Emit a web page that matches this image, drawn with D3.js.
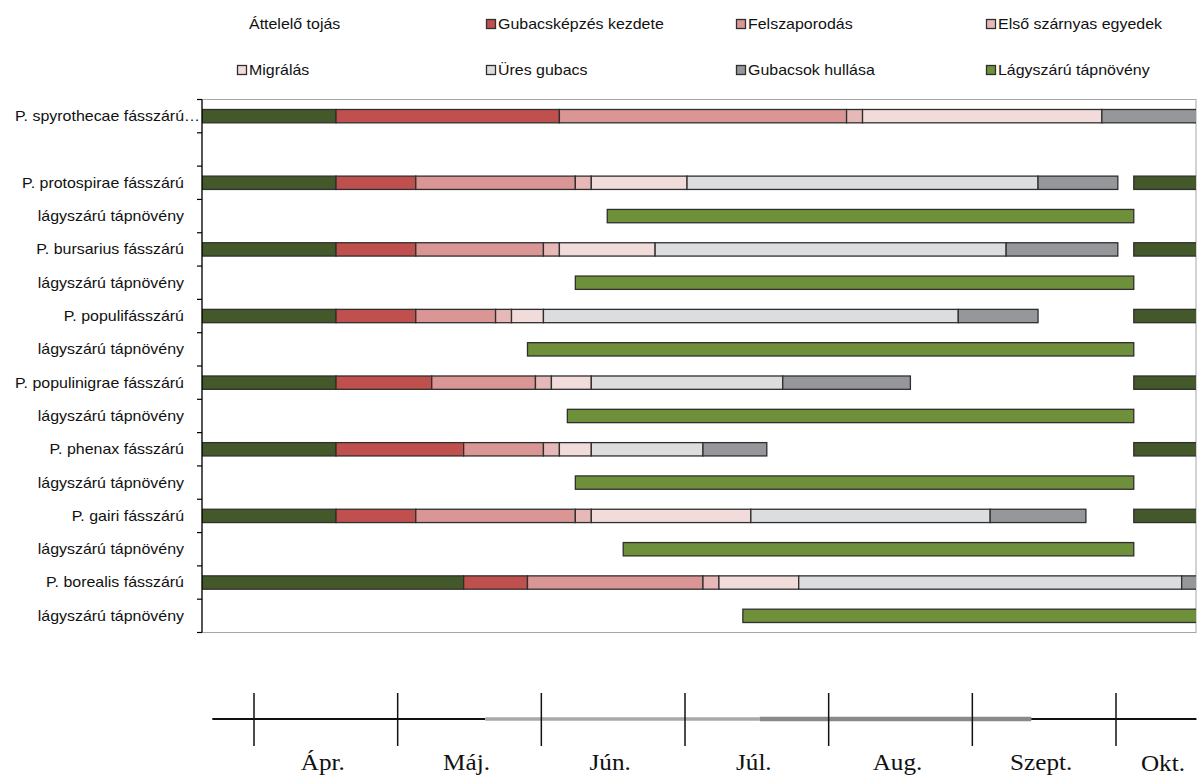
<!DOCTYPE html>
<html>
<head>
<meta charset="utf-8">
<script src="https://cdn.jsdelivr.net/npm/d3@7"></script>
<style>
  html, body { margin: 0; padding: 0; background: #fff; }
  svg { display: block; }
</style>
</head>
<body>
<svg id="chart" width="1197" height="776"></svg>
<script>
// ---- DATA ----
const categories = [
  "P. spyrothecae fásszárú…", "",
  "P. protospirae fásszárú", "lágyszárú tápnövény",
  "P. bursarius fásszárú", "lágyszárú tápnövény",
  "P. populifásszárú", "lágyszárú tápnövény",
  "P. populinigrae fásszárú", "lágyszárú tápnövény",
  "P. phenax fásszárú", "lágyszárú tápnövény",
  "P. gairi fásszárú", "lágyszárú tápnövény",
  "P. borealis fásszárú", "lágyszárú tápnövény"
];
// durations (weeks) of each stacked segment, per category
const offsetHidden   = [0, 0, 0, 25.4, 0, 23.4, 0, 20.4, 0, 22.9, 0, 23.4, 0, 26.4, 0, 33.9];
const attelelo       = [8.4, 0, 8.4, 0, 8.4, 0, 8.4, 0, 8.4, 0, 8.4, 0, 8.4, 0, 16.4, 0];
const gubacskepzes   = [14, 0, 5, 0, 5, 0, 5, 0, 6, 0, 8, 0, 5, 0, 4, 0];
const felszaporodas  = [18, 0, 10, 0, 8, 0, 5, 0, 6.5, 0, 5, 0, 10, 0, 11, 0];
const elsoSzarnyas   = [1, 0, 1, 0, 1, 0, 1, 0, 1, 0, 1, 0, 1, 0, 1, 0];
const migralas       = [15, 0, 6, 0, 6, 0, 2, 0, 2.5, 0, 2, 0, 10, 0, 5, 0];
const uresGubacs     = [0, 0, 22, 0, 22, 0, 26, 0, 12, 0, 7, 0, 15, 0, 24, 0];
const hullas         = [6, 0, 5, 0, 7, 0, 5, 0, 8, 0, 4, 0, 6, 0, 3, 0];
const gapHidden      = [0, 0, 1, 0, 1, 0, 6, 0, 14, 0, 23, 0, 3, 0, 0, 0];
const attelelo2      = [0, 0, 4, 0, 4, 0, 4, 0, 4, 0, 4, 0, 4, 0, 0, 0];
const lagyszaru      = [0, 0, 0, 33, 0, 35, 0, 38, 0, 35.5, 0, 35, 0, 32, 0, 30];

const xDomain = [0, 62.3];

const legendLabels = ["Áttelelő tojás", "Gubacsképzés kezdete", "Felszaporodás", "Első szárnyas egyedek",
                      "Migrálás", "Üres gubacs", "Gubacsok hullása", "Lágyszárú tápnövény"];

const months = ["Ápr.", "Máj.", "Jún.", "Júl.", "Aug.", "Szept.", "Okt."];
// timeline line pieces, in month-index units
const timelinePieces = [
  {from: -0.29, to: 1.61, style: "black"},
  {from: 1.61, to: 3.52, style: "light"},
  {from: 3.52, to: 5.41, style: "mid"},
  {from: 5.41, to: 6.56, style: "black"}
];

// ---- STYLES ----
const series = [
  {key: "offset", values: offsetHidden, fill: "none", hidden: true},
  {key: "att", values: attelelo, fill: "#44592a"},
  {key: "gub", values: gubacskepzes, fill: "#c0504d"},
  {key: "fel", values: felszaporodas, fill: "#d99694"},
  {key: "els", values: elsoSzarnyas, fill: "#e6b9b8"},
  {key: "mig", values: migralas, fill: "#f2dcdb"},
  {key: "ure", values: uresGubacs, fill: "#dcdddf"},
  {key: "hul", values: hullas, fill: "#96979b"},
  {key: "gap", values: gapHidden, fill: "none", hidden: true},
  {key: "att2", values: attelelo2, fill: "#44592a"},
  {key: "lag", values: lagyszaru, fill: "#6f903a"}
];
const legendFills = ["none", "#c0504d", "#d99694", "#e6b9b8", "#f2dcdb", "#dcdddf", "#96979b", "#6f903a"];

const SANS = "'Liberation Sans', Arial, sans-serif";
const SERIF = "'Liberation Serif', 'Times New Roman', serif";
const STRETCH = 1.14;

const svg = d3.select("#chart");
const W = 1197, H = 776;
const plot = {left: 202, right: 1196, top: 99.5, bottom: 632.5};

const x = d3.scaleLinear().domain(xDomain).range([plot.left, plot.right]);
const y = d3.scaleBand().domain(d3.range(categories.length))
  .range([plot.top, plot.bottom]).paddingInner(0.6).paddingOuter(0.3);

function stretchedText(g, tx, ty, str, opts) {
  const t = g.append("text")
    .attr("transform", `translate(${tx},${ty}) scale(${opts.sx || STRETCH},1)`)
    .attr("text-anchor", opts.anchor || "start")
    .attr("dy", opts.dy || null)
    .style("font-family", opts.family || SANS)
    .style("font-size", (opts.size || 14) + "px")
    .attr("fill", opts.fill || "#111")
    .text(str);
  return t;
}

// plot border
svg.append("rect")
  .attr("x", plot.left).attr("y", plot.top)
  .attr("width", plot.right - plot.left).attr("height", plot.bottom - plot.top)
  .attr("fill", "none").attr("stroke", "#a6a6a6").attr("stroke-width", 1);

// clip
svg.append("clipPath").attr("id", "clip").append("rect")
  .attr("x", plot.left).attr("y", plot.top)
  .attr("width", plot.right - plot.left).attr("height", plot.bottom - plot.top);

// stacked bars
const stackData = categories.map((c, i) => {
  const o = {idx: i};
  series.forEach(s => o[s.key] = s.values[i]);
  return o;
});
const stacked = d3.stack().keys(series.map(s => s.key))(stackData);

const gBars = svg.append("g").attr("clip-path", "url(#clip)");
stacked.forEach((layer, li) => {
  const s = series[li];
  if (s.hidden) return;
  gBars.selectAll(null).data(layer.filter(d => d[1] - d[0] > 0)).enter()
    .append("rect")
    .attr("x", d => x(d[0]))
    .attr("y", d => y(d.data.idx))
    .attr("width", d => x(d[1]) - x(d[0]))
    .attr("height", y.bandwidth())
    .attr("fill", s.fill)
    .attr("stroke", "#2f2f2f")
    .attr("stroke-width", 1.3);
});

// y axis line + ticks
const step = y.step();
const boundaries = d3.range(categories.length + 1).map(i => plot.top + i * step);
svg.append("line")
  .attr("x1", plot.left).attr("x2", plot.left)
  .attr("y1", plot.top).attr("y2", plot.bottom)
  .attr("stroke", "#000").attr("stroke-width", 1.2);
svg.selectAll(".ytick").data(boundaries).enter().append("line")
  .attr("x1", plot.left - 5).attr("x2", plot.left)
  .attr("y1", d => d).attr("y2", d => d)
  .attr("stroke", "#000").attr("stroke-width", 1.2);

// y labels
categories.forEach((c, i) => {
  stretchedText(svg, c.endsWith("…") ? plot.left - 2 : plot.left - 18,
    y(i) + y.bandwidth() / 2, c, {anchor: "end", dy: "0.35em"});
});

// legend
const legCols = [237, 486, 736, 986];
const legRows = [24, 70];
legendLabels.forEach((lab, i) => {
  const cx = legCols[i % 4], cy = legRows[Math.floor(i / 4)];
  if (legendFills[i] !== "none") {
    svg.append("rect").attr("x", cx + 0.5).attr("y", cy - 4.5)
      .attr("width", 9).attr("height", 9)
      .attr("fill", legendFills[i]).attr("stroke", "#2f2f2f").attr("stroke-width", 1.3);
  }
  stretchedText(svg, cx + 12, cy, lab, {dy: "0.35em"});
});

// bottom timeline
const mScale = d3.scaleLinear().domain([0, months.length - 1]).range([254, 1116]);
const lineY = 719;
const pieceStyle = {
  black: {stroke: "#111", width: 2},
  light: {stroke: "#a9a9a9", width: 3.5},
  mid:   {stroke: "#8a8a8a", width: 4.5}
};
timelinePieces.forEach(p => {
  svg.append("line")
    .attr("x1", mScale(p.from)).attr("x2", mScale(p.to))
    .attr("y1", lineY).attr("y2", lineY)
    .attr("stroke", pieceStyle[p.style].stroke)
    .attr("stroke-width", pieceStyle[p.style].width);
});
svg.selectAll(".mtick").data(months).enter().append("line")
  .attr("x1", (d, i) => mScale(i)).attr("x2", (d, i) => mScale(i))
  .attr("y1", 693).attr("y2", 746)
  .attr("stroke", "#111").attr("stroke-width", 1.5);
months.forEach((m, i) => {
  const t = stretchedText(svg, 0, 0, m, {anchor: "middle", family: SERIF, size: 22.5, sx: 1.12});
  const half = t.node().getComputedTextLength() * 1.12 / 2;
  const cx = Math.min(mScale(i + 0.5) - 3, W - 12 - half);
  t.attr("transform", `translate(${cx},${i === months.length - 1 ? 771 : 769.5}) scale(1.12,1)`);
});
</script>
</body>
</html>
